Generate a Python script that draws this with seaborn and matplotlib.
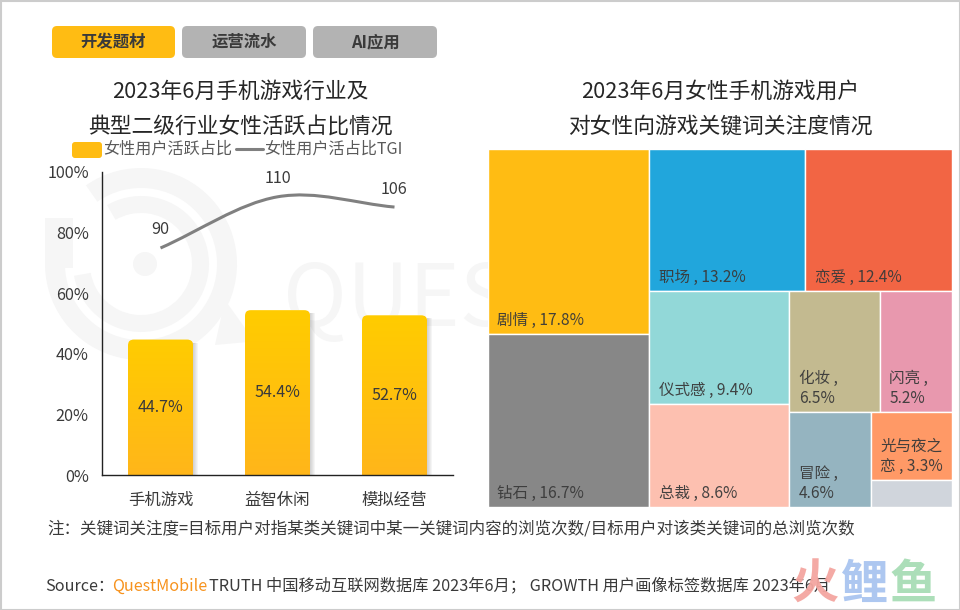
import numpy as np
import pandas as pd
import matplotlib
matplotlib.use("Agg")
import matplotlib.pyplot as plt
from matplotlib.patches import FancyBboxPatch, PathPatch, Rectangle, Wedge, Circle, Polygon
from matplotlib.path import Path
from matplotlib.lines import Line2D
import seaborn as sns

# data
categories = ["手机游戏", "益智休闲", "模拟经营"]
female_share = [44.7, 54.4, 52.7]
female_tgi = [90, 110, 106]

kw_names = ["剧情", "钻石", "职场", "恋爱", "仪式感", "总裁", "化妆", "闪亮", "冒险", "光与夜之恋", "其他"]
kw_values = [17.8, 16.7, 13.2, 12.4, 9.4, 8.6, 6.5, 5.2, 4.6, 3.3, 1.3]
kw_labels = ["剧情 , 17.8%", "钻石 , 16.7%", "职场 , 13.2%", "恋爱 , 12.4%", "仪式感 , 9.4%", "总裁 , 8.6%",
             "化妆 ,\n6.5%", "闪亮 ,\n5.2%", "冒险 ,\n4.6%", "光与夜之\n恋 , 3.3%", ""]
kw_colors = ["#FFBC13", "#878787", "#21A6DC", "#F26544", "#92D8D8", "#FDC0B0",
             "#C3BA90", "#E898AE", "#95B4C0", "#FF9966", "#D0D5DC"]

tabs = ["开发题材", "运营流水", "AI应用"]
title_left = "2023年6月手机游戏行业及\n典型二级行业女性活跃占比情况"
title_right = "2023年6月女性手机游戏用户\n对女性向游戏关键词关注度情况"
note = "注：关键词关注度=目标用户对指某类关键词中某一关键词内容的浏览次数/目标用户对该类关键词的总浏览次数"

W, H = 960, 610
TEXT = "#3A3A3A"

sns.set_theme(style="white")
plt.rcParams["font.family"] = ["Noto Sans CJK SC", "DejaVu Sans"]


def px_axes(x0, y0, x1, y1, z):
    # axes placed by pixel box, y counted from the top
    return fig.add_axes([x0 / W, 1 - y1 / H, (x1 - x0) / W, (y1 - y0) / H], zorder=z)


def split(box, vals, along):
    # cut a box in proportion to vals
    x0, y0, x1, y1 = box
    edges = np.cumsum([0] + list(vals)) / sum(vals)
    if along == "x":
        return [(x0 + a * (x1 - x0), y0, x0 + b * (x1 - x0), y1) for a, b in zip(edges[:-1], edges[1:])]
    return [(x0, y0 + a * (y1 - y0), x1, y0 + b * (y1 - y0)) for a, b in zip(edges[:-1], edges[1:])]


fig = plt.figure(figsize=(W / 100, H / 100), dpi=100, facecolor="white")

# background layer: frame and watermark
bg = px_axes(0, 0, W, H, 0)
bg.set_xlim(0, W)
bg.set_ylim(H, 0)
bg.axis("off")
wm = "#F6F6F6"
# y runs downward here, so wedge angles go clockwise on screen
bg.add_patch(Wedge((141, 264), 96, 235, 205, width=20, color=wm, lw=0))
bg.add_patch(Wedge((141, 264), 68, 240, 170, width=17, color=wm, lw=0))
bg.add_patch(Rectangle((45, 218), 28, 50, color=wm, lw=0))
bg.add_patch(Circle((145, 264), 12, color=wm, lw=0))
bg.add_patch(Polygon([(225, 300), (250, 335), (270, 340), (215, 345)], color=wm, lw=0))
bg.text(283, 302, "QUES", fontsize=62, color=wm, va="center", ha="left", fontweight="medium")
bg.add_patch(Rectangle((0.5, 0.5), W - 1, H - 1, fill=False, ec="#CCCCCC", lw=1.5))

# left chart
ax = px_axes(102, 172, 453, 475, 1)
ax.patch.set_alpha(0)
df = pd.DataFrame({"cat": categories, "share": female_share})
bar_w = 65 / 117
sns.barplot(data=df, x="cat", y="share", width=bar_w, color="#FFBC13", saturation=1, ax=ax)
ax.set_xlim(-0.5, 2.5)
ax.set_ylim(0, 100)
ax.set_xlabel("")
ax.set_ylabel("")
ax.set_yticks([0, 20, 40, 60, 80, 100], ["0%", "20%", "40%", "60%", "80%", "100%"])
ax.tick_params(axis="y", length=0, pad=9.5, labelsize=11.7, labelcolor=TEXT)
ax.tick_params(axis="x", length=0, pad=12, labelsize=11.8, labelcolor=TEXT)
for s in ["top", "right"]:
    ax.spines[s].set_visible(False)
for s in ["left", "bottom"]:
    ax.spines[s].set_color("#222222")
    ax.spines[s].set_linewidth(1)

# gradient, rounded top and soft shadow on each bar
grad = np.linspace(0, 1, 100).reshape(-1, 1)
cmap = matplotlib.colors.LinearSegmentedColormap.from_list("bar", ["#FFCC00", "#FFB61A"])
asp = (100 / 303) / (1 / 117)
for bar, val in zip(list(ax.patches), female_share):
    x, w = bar.get_x(), bar.get_width()
    for off in range(1, 6):
        ax.add_patch(Rectangle((x + w, 0), off / 117, val - 1, color="#777777", alpha=0.07, lw=0, zorder=1))
    clip = FancyBboxPatch((x, -5), w, val + 5, boxstyle="round,pad=0,rounding_size=0.05",
                          mutation_aspect=asp, transform=ax.transData, fc="none", ec="none")
    ax.add_patch(clip)
    im = ax.imshow(grad, extent=(x, x + w, 0, val), cmap=cmap, aspect="auto", zorder=2)
    im.set_clip_path(clip)
    bar.set_clip_path(clip)
    ax.text(x + w / 2, val / 2, f"{val}%", ha="center", va="center", fontsize=11.5, color=TEXT, zorder=3)
ax.set_xlim(-0.5, 2.5)
ax.set_ylim(0, 100)

# TGI line on its own hidden scale
ax2 = ax.twinx()
ax2.set_ylim(1.3, 119.7)
ax2.axis("off")
xs = np.arange(len(female_tgi), dtype=float)
ys = np.array(female_tgi, dtype=float)
slope = np.gradient(ys)
verts = [(xs[0], ys[0])]
codes = [Path.MOVETO]
for i in range(len(xs) - 1):
    verts += [(xs[i] + 1 / 3, ys[i] + slope[i] / 3), (xs[i + 1] - 1 / 3, ys[i + 1] - slope[i + 1] / 3), (xs[i + 1], ys[i + 1])]
    codes += [Path.CURVE4] * 3
ax2.add_patch(PathPatch(Path(verts, codes), fill=False, ec="#808080", lw=2.2, capstyle="butt"))
for x, y in zip(xs, ys):
    ax2.annotate(f"{y:.0f}", (x, y), xytext=(0, 13), textcoords="offset points",
                 ha="center", va="center", fontsize=11.7, color=TEXT)

# treemap, boxes cut from the values
tm = px_axes(487.5, 149.5, 952, 507, 1)
tm.set_xlim(0, 1)
tm.set_ylim(1, 0)
tm.axis("off")
v = kw_values
left, right = split((0, 0, 1, 1), [sum(v[:2]), sum(v[2:])], "x")
boxes = split(left, v[:2], "y")
top, rest = split(right, [sum(v[2:4]), sum(v[4:])], "y")
boxes += split(top, v[2:4], "x")
mid, far = split(rest, [sum(v[4:6]), sum(v[6:])], "x")
boxes += split(mid, v[4:6], "y")
upper, lower = split(far, [sum(v[6:8]), sum(v[8:])], "y")
boxes += split(upper, v[6:8], "x")
adv, small = split(lower, [v[8], sum(v[9:])], "x")
boxes += [adv] + split(small, v[9:], "y")
for box, lab, col in zip(boxes, kw_labels, kw_colors):
    x0, y0, x1, y1 = box
    tm.add_patch(Rectangle((x0, y0), x1 - x0, y1 - y0, fc=col, ec="white", lw=1))
    if lab:
        tm.annotate(lab, (x0, y1), xytext=(7, 3.6), textcoords="offset points", ha="left", va="bottom",
                    fontsize=11.2, color=TEXT, alpha=0.95, linespacing=1.25)

# top layer: tabs, titles, legend, footer
top_ax = px_axes(0, 0, W, H, 2)
top_ax.set_xlim(0, W)
top_ax.set_ylim(H, 0)
top_ax.axis("off")
top_ax.patch.set_alpha(0)
for name, x0, x1, col in zip(tabs, [52, 182, 313], [175, 306, 437], ["#FFBC13", "#B3B3B3", "#B3B3B3"]):
    top_ax.add_patch(FancyBboxPatch((x0, 26), x1 - x0, 32, boxstyle="round,pad=0,rounding_size=5", fc=col, ec="none"))
    top_ax.text((x0 + x1) / 2, 42, name, ha="center", va="center", fontsize=11.8, fontweight="bold", color="#3A3A3A")

top_ax.text(240, 109, title_left, ha="center", va="center", fontsize=15.7, color="#262626", linespacing=1.72)
top_ax.text(720, 109, title_right, ha="center", va="center", fontsize=15.7, color="#262626", linespacing=1.72)

top_ax.add_patch(FancyBboxPatch((72, 142), 30, 16, boxstyle="round,pad=0,rounding_size=3", fc="#FFBC13", ec="none"))
top_ax.text(103, 149, "女性用户活跃占比", ha="left", va="center", fontsize=11.6, color="#5A5A5A")
top_ax.add_line(Line2D([236, 263], [149, 149], color="#808080", lw=2.2))
top_ax.text(264, 149, "女性用户活占比TGI", ha="left", va="center", fontsize=11.6, color="#5A5A5A")

top_ax.text(47, 529, note, ha="left", va="center", fontsize=11.9, color=TEXT)
top_ax.text(45, 586, "Source：", ha="left", va="center", fontsize=11.6, color=TEXT)
top_ax.text(112, 586, "QuestMobile", ha="left", va="center", fontsize=11.6, color="#F7931E", fontweight="medium")
top_ax.text(209, 586, "TRUTH 中国移动互联网数据库 2023年6月； GROWTH 用户画像标签数据库 2023年6月",
            ha="left", va="center", fontsize=11.7, color=TEXT)

# corner mark
for ch, xc, col in zip("火鲤鱼", [815, 865, 913], ["#F4A6A0", "#A9C4F0", "#A8DDB5"]):
    top_ax.text(xc, 585, ch, ha="center", va="center", fontsize=34, fontweight="bold", color=col, alpha=0.95)

fig.savefig("out.png", dpi=100)
